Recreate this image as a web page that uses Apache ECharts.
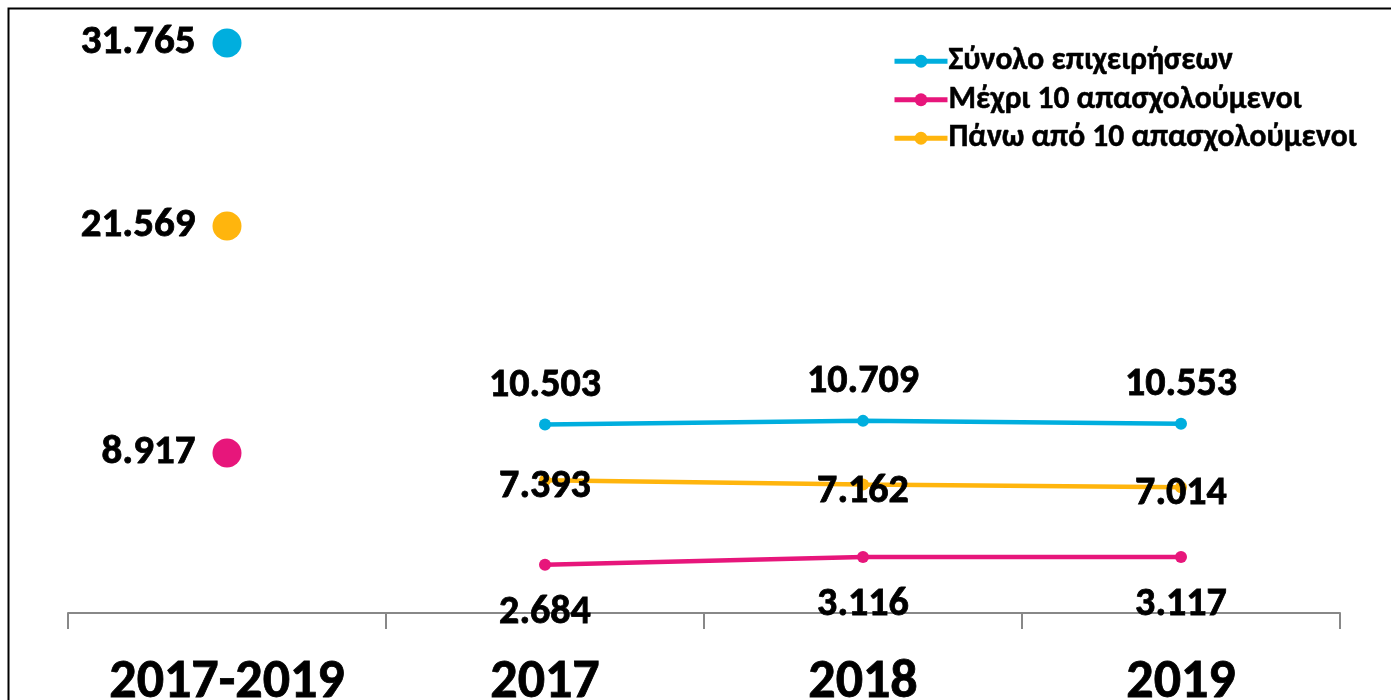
<!DOCTYPE html>
<html>
<head>
<meta charset="utf-8">
<script src="https://cdn.jsdelivr.net/npm/echarts@6/dist/echarts.min.js"></script>
<style>
  html, body { margin: 0; padding: 0; background: #fff; }
  #chart { width: 1391px; height: 700px; }
</style>
</head>
<body>
<div id="chart"></div>
<script>
  const categories = ['2017-2019', '2017', '2018', '2019'];
  const seriesNames = ['Σύνολο επιχειρήσεων', 'Μέχρι 10 απασχολούμενοι', 'Πάνω από 10 απασχολούμενοι'];
  const totalAll = [null, 10.503, 10.709, 10.553];
  const upTo10 = [null, 2.684, 3.116, 3.117];
  const over10 = [null, 7.393, 7.162, 7.014];
  // sums for the whole period, shown as big dots at the first category
  const periodTotals = [31.765, 8.917, 21.569];

  const colors = ['#00AEDE', '#E7167B', '#FFB50D'];
  const font = 'Carlito, "Open Sans", "Noto Sans", sans-serif';

  function fmt(v) {
    return v.toFixed(3);
  }

  const lineData = [totalAll, upTo10, over10];
  const labelPos = [
    { position: 'top', distance: 13 },
    { position: 'bottom', distance: 22 },
    { position: 'inside', offset: [0, 7] },
  ];

  const chart = echarts.init(document.getElementById('chart'));

  const heavy = { color: '#000', textBorderColor: '#000', textBorderWidth: 0.8 };

  const series = [];
  lineData.forEach((data, i) => {
    series.push({
      name: seriesNames[i],
      type: 'line',
      data: data,
      symbol: 'circle',
      symbolSize: 12,
      color: colors[i],
      lineStyle: { width: 4.5, color: colors[i] },
      itemStyle: { color: colors[i] },
      z: i === 2 ? 1 : 2,
      label: Object.assign({
        show: true,
        fontFamily: font,
        fontWeight: 'bold',
        fontSize: 40,
        formatter: p => fmt(p.value),
      }, heavy, labelPos[i]),
    });
  });
  series.push({
    name: 'period',
    type: 'scatter',
    symbolSize: 29,
    data: periodTotals.map((v, i) => ({
      value: [categories[0], v],
      itemStyle: { color: colors[i], opacity: 1 },
    })),
    label: Object.assign({
      show: true,
      position: 'left',
      distance: 17,
      fontFamily: font,
      fontWeight: 'bold',
      fontSize: 41,
      formatter: p => fmt(p.value[1]),
    }, heavy),
  });

  chart.setOption({
    animation: false,
    grid: { left: 68, right: 51, top: 3, bottom: 87, outerBoundsMode: 'none' },
    legend: {
      data: seriesNames,
      orient: 'vertical',
      left: 887,
      top: 40,
      itemWidth: 53,
      itemHeight: 16,
      itemGap: 6,
      lineStyle: { width: 5 },
      textStyle: Object.assign({
        fontFamily: font,
        fontWeight: 'bold',
        fontSize: 31.5,
        padding: [0, 0, 0, -4],
      }, heavy, { textBorderWidth: 0.5 }),
    },
    xAxis: {
      type: 'category',
      data: categories,
      boundaryGap: true,
      axisLine: { lineStyle: { color: '#888', width: 2 } },
      axisTick: { show: true, length: 16, lineStyle: { color: '#888', width: 2 } },
      axisLabel: Object.assign({
        margin: 43,
        fontFamily: font,
        fontWeight: 'bold',
        fontSize: 54,
      }, heavy),
    },
    yAxis: {
      type: 'value',
      min: 0,
      max: 34,
      show: false,
    },
    graphic: [{
      type: 'polyline',
      shape: { points: [[8.5, 700], [8.5, 8.5], [1391, 8.5]] },
      style: { stroke: '#000', lineWidth: 2, fill: null },
    }],
    series: series,
  });
</script>
</body>
</html>
